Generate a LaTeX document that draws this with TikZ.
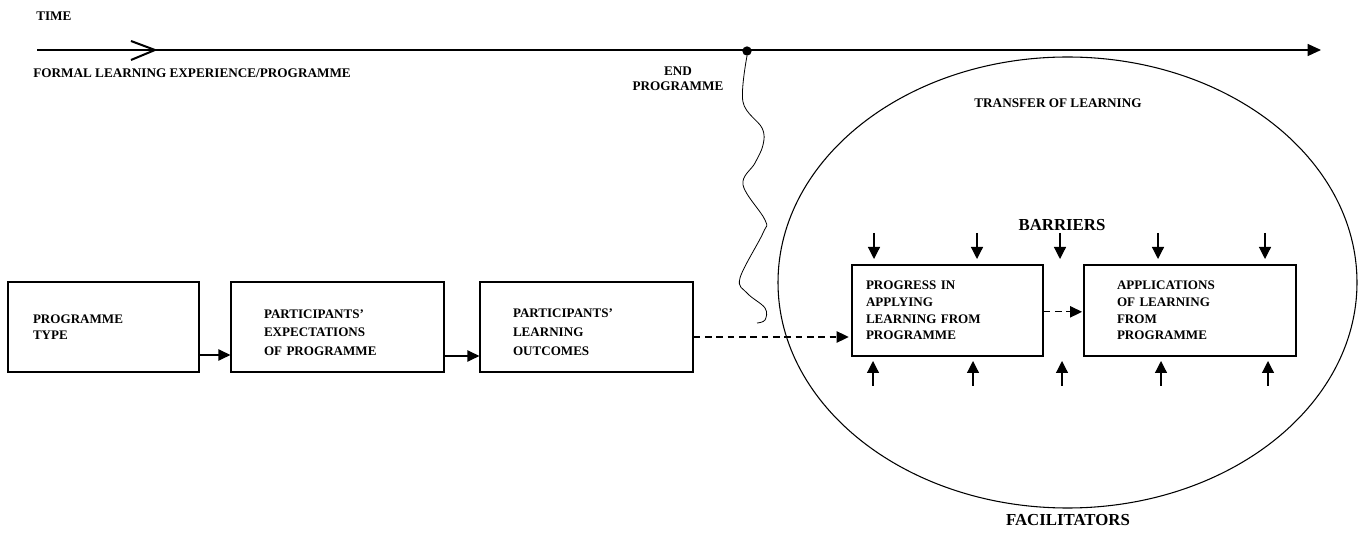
\documentclass[tikz,border=0pt]{standalone}
\usepackage{fontspec}
\setmainfont{Liberation Serif}
\usetikzlibrary{arrows.meta,shapes.geometric,positioning}
\tikzset{
    box/.style={draw=black, line width=.9pt, minimum height=67.5pt, inner ysep=2pt,
        align=left, font=\bfseries\fontsize{9.8}{12.4}\selectfont},
    wide/.style={font=\bfseries\fontsize{9.8}{13.9}\selectfont},
    flow/.style={draw=black, line width=.9pt, -{Triangle[length=9pt,width=8.5pt]}},
    flowdash/.style={flow, dash pattern=on 5pt off 3.5pt},
    force/.style={draw=black, line width=.9pt, -{Triangle[length=9pt,width=9pt]}},
    timeline/.style={draw=black, line width=.9pt, -{Triangle[length=10pt,width=9pt]}},
    wave/.style={draw=black, line width=.6pt},
    lbl/.style={font=\bfseries\fontsize{9.9}{11.2}\selectfont, inner sep=0pt},
    biglbl/.style={font=\bfseries\fontsize{12.6}{14}\selectfont, inner sep=0pt},
}
\begin{document}
\begin{tikzpicture}[x=0.75pt, y=-0.75pt]
    \useasboundingbox (0,0) rectangle (1364,534);
    % time axis
    \node[lbl, anchor=west] (time) at (36,16) {TIME};
    \coordinate (t0) at (37,50);
    \coordinate (t1) at (1321,50);
    \draw[timeline] (t0) -- (t1);
    \draw[line width=1.5pt] (131,41) -- (155,50) -- (131,60);
    \node[lbl, anchor=west] (formal) at (33,73) {FORMAL LEARNING EXPERIENCE/PROGRAMME};
    \node[circle, fill=black, inner sep=0pt, minimum size=7pt] (endpt) at (747,51) {};
    \node[lbl, align=center] (endlbl) at (678,79) {END\\PROGRAMME};
    \draw[wave] plot[smooth, tension=.6] coordinates {(endpt.south) (743,102) (762,128) (763,145)
        (755,163) (743,185) (765,220) (763,233) (740,278) (747,293) (765,308) (765,320) (757,323)};
    % transfer region
    \node[draw, ellipse, line width=.8pt, inner sep=0pt, minimum width=434.25pt,
        minimum height=338.25pt] (transfer) at (1067.5,282.5) {};
    \node[lbl] (transferlbl) at (1058,103) {TRANSFER OF LEARNING};
    \node[biglbl] (barriers) at (1062,225) {BARRIERS};
    \node[biglbl] (facil) at (1068,520) {FACILITATORS};
    % boxes
    \node[box, inner xsep=18.75pt, text width=105.75pt] (prog) at (103.5,327) {PROGRAMME\\TYPE};
    \node[box, wide, inner xsep=24.75pt, text width=110.25pt] (expect) at (337.5,327)
        {\\[1pt]PARTICIPANTS'\\EXPECTATIONS\\OF PROGRAMME};
    \node[box, wide, inner xsep=24.75pt, text width=110.25pt] (outcome) at (586.5,327)
        {\\[0.4pt]PARTICIPANTS'\\LEARNING\\OUTCOMES};
    \node[box, minimum height=68.25pt, inner xsep=10.5pt, text width=122.25pt] (progress) at (947.5,310.5)
        {PROGRESS IN\\APPLYING\\LEARNING FROM\\PROGRAMME};
    \node[box, minimum height=68.25pt, inner xsep=24.75pt, text width=109.5pt] (apply) at (1190,310.5)
        {APPLICATIONS\\OF LEARNING\\FROM\\PROGRAMME};
    \draw[flow] ([yshift=-21pt]prog.east) -- ([yshift=-21pt]prog.east -| expect.west);
    \draw[flow] ([yshift=-21.75pt]expect.east) -- ([yshift=-21.75pt]expect.east -| outcome.west);
    \draw[flowdash, shorten >=2pt] ([yshift=-7.5pt]outcome.east) -- ([yshift=-7.5pt]outcome.east -| progress.west);
    \draw[flowdash, shorten >=1pt] ([yshift=-1pt]progress.east) -- ([yshift=-1pt]progress.east -| apply.west);
    % barriers and facilitators
    \foreach \x in {874,977,1060,1158,1265}
        \draw[force] (\x,233) -- (\x,259);
    \foreach \x in {873,973,1062,1161,1268}
        \draw[force] (\x,386) -- (\x,361);
\end{tikzpicture}
\end{document}
